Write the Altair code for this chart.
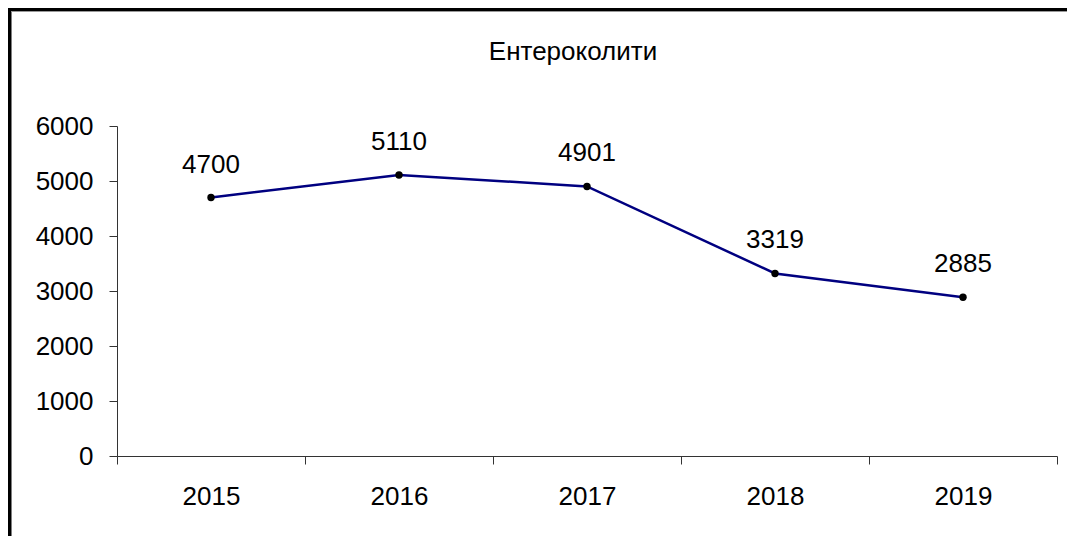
import altair as alt
import pandas as pd

years = ["2015", "2016", "2017", "2018", "2019"]
values = [4700, 5110, 4901, 3319, 2885]
y_ticks = [0, 1000, 2000, 3000, 4000, 5000, 6000]
title_text = "Ентероколити"

df = pd.DataFrame({"year": years, "value": values})
FONT = "Liberation Sans"
AX = "#333333"
FS = 26

x_enc = alt.X(
    "year:N",
    sort=years,
    bandPosition=0.5,
    scale=alt.Scale(type="band", paddingInner=0, paddingOuter=0),
    axis=alt.Axis(
        title=None, labelAngle=0, tickBand="extent", tickSize=8, labelPadding=19,
        labelFontSize=FS, labelFont=FONT, labelColor="black",
        domainColor=AX, tickColor=AX, grid=False,
    ),
)
y_enc = alt.Y(
    "value:Q",
    scale=alt.Scale(domain=[0, 6000], nice=False),
    axis=alt.Axis(
        title=None, values=y_ticks, format="d", tickSize=8, labelPadding=16,
        labelFontSize=FS, labelFont=FONT, labelColor="black",
        domainColor=AX, tickColor=AX, grid=False,
    ),
)

base = alt.Chart(df)
line = base.mark_line(color="#000080", strokeWidth=2.5).encode(x=x_enc, y=y_enc)
pts = base.mark_circle(color="black", size=55, opacity=1).encode(x=x_enc, y=y_enc)
labels = base.mark_text(
    dy=-25, baseline="alphabetic", align="center", fontSize=FS, font=FONT, color="black"
).encode(x=x_enc, y=y_enc, text="value:Q")

frame_df = pd.DataFrame({"k": [0]})
title_mark = alt.Chart(frame_df).mark_text(
    fontSize=26, font=FONT, color="black", align="center", baseline="middle"
).encode(x=alt.value(456), y=alt.value(-74), text=alt.value(title_text))
left_border = alt.Chart(frame_df).mark_rule(color="black", strokeWidth=4).encode(
    x=alt.value(-107.5), y=alt.value(-118), y2=alt.value(420)
)
top_border = alt.Chart(frame_df).mark_rule(color="black", strokeWidth=3).encode(
    x=alt.value(-109), x2=alt.value(970), y=alt.value(-116.5)
)
top_shadow = alt.Chart(frame_df).mark_rule(color="#999999", strokeWidth=1).encode(
    x=alt.value(-106), x2=alt.value(970), y=alt.value(-114.5)
)

chart = alt.layer(line, pts, labels, title_mark, left_border, top_border, top_shadow).properties(
    width=940,
    height=330,
    autosize=alt.AutoSizeParams(type="none"),
    padding={"left": 109, "top": 118, "right": 10, "bottom": 80},
    background="white",
).configure_view(stroke=None)

chart.save("out.html", embed_options={"renderer": "svg", "actions": False})
